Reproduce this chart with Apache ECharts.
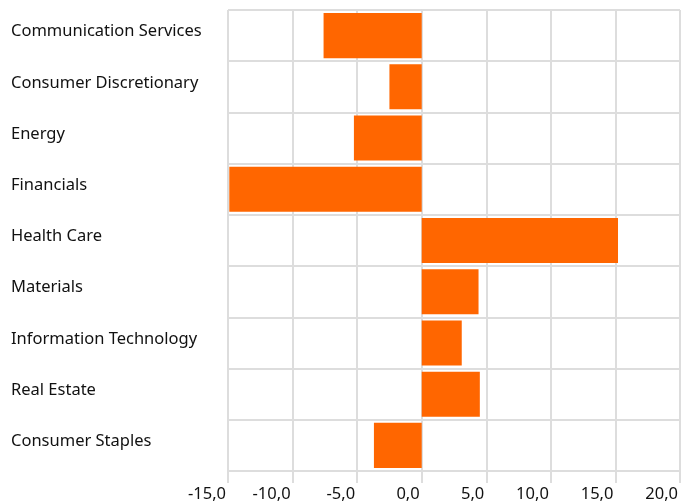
<!DOCTYPE html>
<html>
<head>
<meta charset="utf-8">
<script src="https://cdn.jsdelivr.net/npm/echarts@6/dist/echarts.min.js"></script>
<style>html,body{margin:0;padding:0;background:#fff}#c{width:681px;height:504px}</style>
</head>
<body>
<div id="c"></div>
<script>
const categories = ["Communication Services","Consumer Discretionary","Energy","Financials","Health Care","Materials","Information Technology","Real Estate","Consumer Staples"];
const values = [-7.6, -2.5, -5.25, -14.9, 15.2, 4.4, 3.1, 4.5, -3.7];
const xMin = -15, xMax = 20, xStep = 5;

const chart = echarts.init(document.getElementById('c'), null, {renderer: 'canvas'});
const font = '"Noto Sans", sans-serif';
chart.setOption({
  animation: false,
  backgroundColor: '#fff',
  grid: {left: 228, right: 1, top: 10, bottom: 33, containLabel: false},
  xAxis: {
    type: 'value', min: xMin, max: xMax, interval: xStep,
    axisLine: {show: false},
    axisTick: {show: true, length: 12, lineStyle: {color: '#dddddd', width: 2}},
    splitLine: {show: true, lineStyle: {color: '#dddddd', width: 2}},
    axisLabel: {
      color: '#111', fontFamily: font, fontSize: 16.5, margin: 15,
      align: 'right', padding: [0, 2, 0, 0],
      formatter: v => v.toFixed(1).replace('.', ',')
    }
  },
  yAxis: {
    type: 'category', data: categories, inverse: true,
    axisLine: {show: false},
    axisTick: {show: true, length: 15, lineStyle: {color: '#dddddd', width: 2}},
    splitLine: {show: true, lineStyle: {color: '#dddddd', width: 2}},
    axisLabel: {color: '#111', fontFamily: font, fontSize: 16.5, align: 'left', margin: 217, verticalAlign: 'bottom', lineHeight: 8}
  },
  series: [{
    type: 'bar', data: values, barCategoryGap: '12%',
    itemStyle: {color: '#ff6600'}
  }]
});
</script>
</body>
</html>
